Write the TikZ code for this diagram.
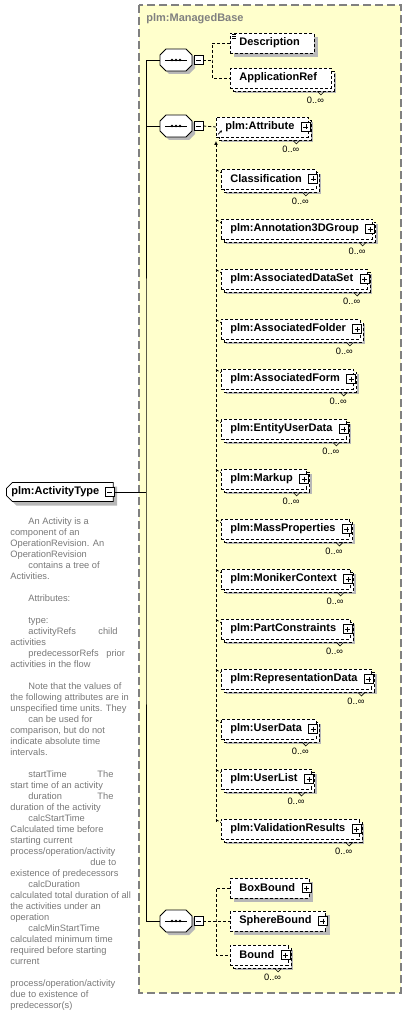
\documentclass[tikz,border=0pt]{standalone}
\usepackage{fontspec}
\setmainfont{Liberation Sans}
\usetikzlibrary{calc,shapes.misc,arrows.meta}

\definecolor{basefill}{RGB}{255,255,204}
\definecolor{baseedge}{RGB}{128,128,128}
\definecolor{shadowgray}{RGB}{184,184,184}
\definecolor{doctext}{RGB}{120,120,120}

\tikzset{
	elem/.style={draw, dash pattern=on 3pt off 2pt, fill=white, anchor=west,
		minimum height=20pt, inner xsep=0pt, inner ysep=0pt, text=black,
		font=\fontsize{11}{13}\selectfont\bfseries,
		execute at begin node=\hspace*{9pt},
		execute at end node=\hspace*{14pt}},
	multi/.style={elem},
	shadowcopy/.style={draw=none, fill=shadowgray},
	backcopy/.style={fill=white},
	mult/.style={inner sep=0pt, text=black, font=\fontsize{9.3}{11}\selectfont},
	toggle/.style={draw, solid, fill=white, minimum size=9pt, inner sep=0pt, line width=0.7pt},
	minus/.style={toggle, path picture={
		\draw[line width=0.7pt] ([xshift=2pt]path picture bounding box.west)
			-- ([xshift=-2pt]path picture bounding box.east);}},
	plus/.style={toggle, path picture={
		\draw[line width=0.7pt] ([xshift=2pt]path picture bounding box.west)
			-- ([xshift=-2pt]path picture bounding box.east);
		\draw[line width=0.7pt] ([yshift=-2pt]path picture bounding box.north)
			-- ([yshift=2pt]path picture bounding box.south);}},
	seq/.style={rectangle, minimum width=32pt, minimum height=22pt, inner sep=0pt,
		path picture={
			\draw[line width=0.8pt] ([xshift=5pt]path picture bounding box.west)
				-- ([xshift=-5pt]path picture bounding box.east);
			\foreach \dx in {-4,0,4} {
				\fill ([xshift=\dx pt]path picture bounding box.center) circle (1.3pt);
			}}},
	octagon/.style={draw, solid, line width=0.8pt},
	root/.style={chamfered rectangle, chamfered rectangle corners={north west,south west},
		chamfered rectangle xsep=3pt, chamfered rectangle ysep=3pt,
		draw, solid, fill=white, anchor=west, minimum height=19pt,
		inner xsep=0pt, inner ysep=0pt,
		font=\fontsize{11}{13}\selectfont\bfseries,
		execute at begin node=\hspace*{2pt},
		execute at end node=\hspace*{11pt}},
	doc/.style={anchor=north west, inner sep=0pt, align=left, text=doctext,
		font=\fontsize{9.3}{11}\selectfont},
	tree/.style={draw, solid},
	conn/.style={draw, dash pattern=on 3pt off 2pt},
	notch/.style={draw, solid, line width=0.6pt}
}

\begin{document}
\begin{tikzpicture}[x=1pt, y=-1pt, line width=0.8pt]

	% frame
	\useasboundingbox (0,0) rectangle (408,1027);
	\draw[fill=basefill, draw=baseedge, line width=1.3pt, dash pattern=on 8pt off 4pt]
		(139,5) rectangle (401,993);
	\node[anchor=west, inner sep=0pt, text=baseedge, font=\fontsize{11}{13}\selectfont\bfseries]
		(basename) at (146,19) {plm:ManagedBase};

	% root element
	\node[root, shadowcopy] (roots) at (10,496) {\phantom{plm:ActivityType}};
	\node[root] (root) at (6,492) {plm:ActivityType};
	\node[minus] (mroot) at ($(root.east)+(-4,0)$) {};

	% documentation
	\node[doc] (note) at (10,517) {%
		\hspace*{18pt}An Activity is a\\
		component of an\\
		OperationRevision. An\\
		OperationRevision\\
		\hspace*{18pt}contains a tree of\\
		Activities.\\[11pt]
		\hspace*{18pt}Attributes:\\[11pt]
		\hspace*{18pt}type:\\
		\hspace*{18pt}\makebox[70pt][l]{activityRefs}child\\
		activities\\
		\hspace*{18pt}\makebox[78pt][l]{predecessorRefs}prior\\
		activities in the flow\\[11pt]
		\hspace*{18pt}Note that the values of\\
		the following attributes are in\\
		unspecified time units. They\\
		\hspace*{18pt}can be used for\\
		comparison, but do not\\
		indicate absolute time\\
		intervals.\\[11pt]
		\hspace*{18pt}\makebox[69pt][l]{startTime}The\\
		start time of an activity\\
		\hspace*{18pt}\makebox[69pt][l]{duration}The\\
		duration of the activity\\
		\hspace*{18pt}calcStartTime\\
		Calculated time before\\
		starting current\\
		process/operation/activity\\
		\hspace*{80pt}due to\\
		existence of predecessors\\
		\hspace*{18pt}calcDuration\\
		calculated total duration of all\\
		the activities under an\\
		operation\\
		\hspace*{18pt}calcMinStartTime\\
		calculated minimum time\\
		required before starting\\
		current\\[11pt]
		process/operation/activity\\
		due to existence of\\
		predecessor(s)};

	% sequences
	\coordinate (trunk) at (146,492);
	\foreach \s/\y in {1/60, 2/126, 3/921} {
		\fill[shadowgray] (179,{\y+3}) ++(-16,-5) -- ++(6,-6) -- ++(20,0) -- ++(6,6)
			-- ++(0,10) -- ++(-6,6) -- ++(-20,0) -- ++(-6,-6) -- cycle;
		\draw[octagon, fill=white] (176,\y) ++(-16,-5) -- ++(6,-6) -- ++(20,0) -- ++(6,6)
			-- ++(0,10) -- ++(-6,6) -- ++(-20,0) -- ++(-6,-6) -- cycle;
		\node[seq] (seq\s) at (176,\y) {};
		\node[minus] (ms\s) at ($(seq\s.east)+(6,0)$) {};
	}

	\draw[tree] (mroot.east) -- (trunk);
	\draw[tree] (seq1.west) -| (trunk) |- (seq3.west);
	\draw[tree] (seq2.west) -- (trunk |- seq2.west);

	% first sequence
	\coordinate (fork1) at (212,60);
	\node[elem, shadowcopy] (descrs) at (234,47) {\phantom{Description}};
	\node[elem] (descr) at (230,43) {Description};
	\node[multi, shadowcopy] (apprefs) at (235,83) {\phantom{ApplicationRef}};
	\node[multi, backcopy] (apprefc) at (233,81) {\phantom{ApplicationRef}};
	\node[multi] (appref) at (230,78) {ApplicationRef};
	\node[mult] (mappref) at ($(appref.south east)+(-16,12)$) {0..∞};
	\draw[notch] ($(appref.south east)+(-14,3)$) -- ++(3.5,3.5) -- ++(3.5,-3.5);
	\foreach \dy in {2,4,6} {
		\draw[solid, line width=0.6pt] ($(descr.north west)+(2,\dy)$) -- ++(4,0);
	}
	\draw[conn] (ms1.east) -- (fork1);
	\draw[conn] (descr.west) -| (fork1) |- (appref.west);

	% second sequence
	\node[multi, shadowcopy] (attrs) at (221,132) {\phantom{plm:Attribute}};
	\node[multi, backcopy] (attrc) at (219,130) {\phantom{plm:Attribute}};
	\node[multi] (attr) at (216,127) {plm:Attribute};
	\node[plus] (pattr) at ($(attr.east)+(-3,0)$) {};
	\node[mult] (mattr) at ($(attr.south east)+(-18,12)$) {0..∞};
	\draw[notch] ($(attr.south east)+(-16,3)$) -- ++(3.5,3.5) -- ++(3.5,-3.5);
	\draw[solid, line width=0.7pt, -{Stealth[length=2.5pt,width=2.5pt]}]
		($(attr.south west)+(2,-3)$) -- ++(4,-4);
	\draw[conn] (ms2.east) -- (attr.west);

	\coordinate (subtop) at (216,141);
	\coordinate (subbot) at (216,822);
	\draw[conn, -{Latex[length=4pt,width=4pt]}] (subbot) -- (subtop);

	\foreach \nm [count=\i] in {Classification, plm:Annotation3DGroup, plm:AssociatedDataSet,
		plm:AssociatedFolder, plm:AssociatedForm, plm:EntityUserData, plm:Markup,
		plm:MassProperties, plm:MonikerContext, plm:PartConstraints,
		plm:RepresentationData, plm:UserData, plm:UserList, plm:ValidationResults} {
		\node[multi, shadowcopy] (s\i) at (226,{134+50*\i}) {\phantom{\nm}};
		\node[multi, backcopy] (c\i) at (224,{132+50*\i}) {\phantom{\nm}};
		\node[multi] (n\i) at (221,{129+50*\i}) {\nm};
		\node[plus] (p\i) at ($(n\i.east)+(-3,0)$) {};
		\node[mult] (m\i) at ($(n\i.south east)+(-16,12)$) {0..∞};
		\draw[notch] ($(n\i.south east)+(-14,3)$) -- ++(3.5,3.5) -- ++(3.5,-3.5);
		\draw[conn] ($(subtop |- n\i.north)+(0,1)$) -- ($(n\i.north west)+(0,4)$);
	}

	% third sequence
	\coordinate (fork3) at (216,921);
	\node[elem, shadowcopy] (boxbs) at (234,892) {\phantom{BoxBound}};
	\node[elem] (boxb) at (230,888) {BoxBound};
	\node[elem, shadowcopy] (sphbs) at (234,925) {\phantom{SphereBound}};
	\node[elem] (sphb) at (230,921) {SphereBound};
	\node[multi, shadowcopy] (bnds) at (235,960) {\phantom{Bound}};
	\node[multi, backcopy] (bndc) at (233,958) {\phantom{Bound}};
	\node[multi] (bnd) at (230,955) {Bound};
	\node[plus] (pboxb) at ($(boxb.east)+(-3,0)$) {};
	\node[plus] (psphb) at ($(sphb.east)+(-3,0)$) {};
	\node[plus] (pbnd) at ($(bnd.east)+(-3,0)$) {};
	\node[mult] (mbnd) at ($(bnd.south east)+(-16,12)$) {0..∞};
	\draw[notch] ($(bnd.south east)+(-14,3)$) -- ++(3.5,3.5) -- ++(3.5,-3.5);
	\draw[conn] (ms3.east) -- (sphb.west);
	\draw[conn] (boxb.west) -| (fork3) |- (bnd.west);

\end{tikzpicture}
\end{document}
